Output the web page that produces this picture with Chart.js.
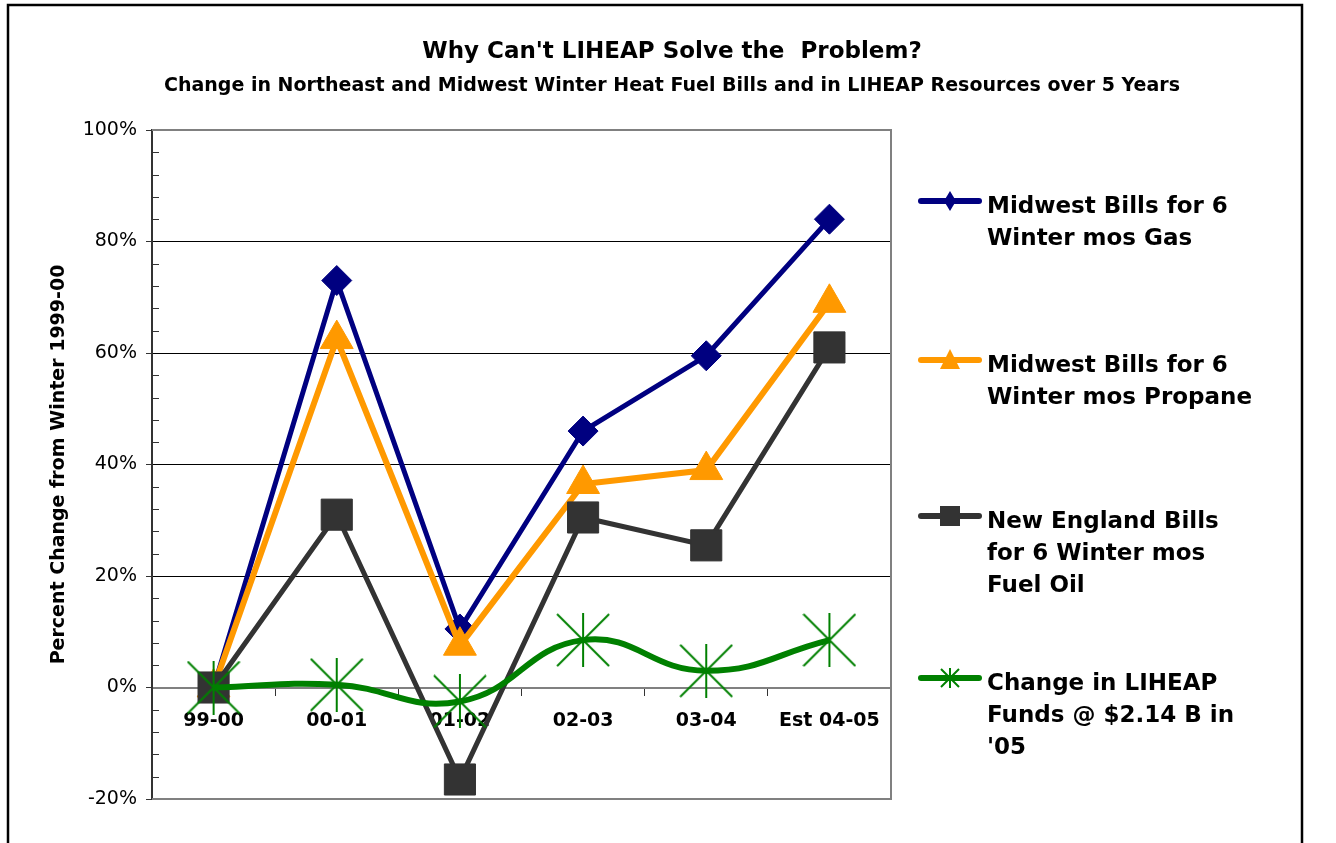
<!DOCTYPE html>
<html>
<head>
<meta charset="utf-8">
<script src="https://cdn.jsdelivr.net/npm/chart.js@4.4.1/dist/chart.umd.min.js"></script>
<style>
  html, body { margin: 0; padding: 0; background: #fff; overflow: hidden; }
</style>
</head>
<body>
<canvas id="heatChart" width="1336" height="843"></canvas>
<script>
const categories = ['99-00', '00-01', '01-02', '02-03', '03-04', 'Est 04-05'];
const gasValues = [0, 73, 10.5, 46, 59.5, 84];
const propaneValues = [0, 62.5, 7.5, 36.5, 39, 69];
const fuelOilValues = [0, 31, -16.5, 30.5, 25.5, 61];
const liheapValues = [0, 0.5, -2.5, 8.5, 3, 8.5];
const seriesNames = [
  ['Midwest Bills for 6', 'Winter mos Gas'],
  ['Midwest Bills for 6', 'Winter mos Propane'],
  ['New England Bills', 'for 6 Winter mos', 'Fuel Oil'],
  ['Change in LIHEAP', 'Funds @ $2.14 B in', "'05"]
];
const chartTitle = "Why Can't LIHEAP Solve the  Problem?";
const chartSubtitle = 'Change in Northeast and Midwest Winter Heat Fuel Bills and in LIHEAP Resources over 5 Years';
const yAxisTitle = 'Percent Change from Winter 1999-00';

const FONT = "'DejaVu Sans', Verdana, sans-serif";

// asterisk marker (vertical bar + X), like the excel one
function asterisk(size, lw, color) {
  const c = document.createElement('canvas');
  c.width = size; c.height = size;
  const g = c.getContext('2d');
  g.strokeStyle = color;
  g.lineWidth = lw;
  g.beginPath();
  g.moveTo(size / 2, 0); g.lineTo(size / 2, size);
  g.moveTo(1, 1); g.lineTo(size - 1, size - 1);
  g.moveTo(size - 1, 1); g.lineTo(1, size - 1);
  g.stroke();
  return c;
}
const starPoint = asterisk(54, 2, '#008000');
const starLegend = asterisk(20, 2, '#008000');

const legendBaselines = [213, 372, 528, 690];

function legendMarker(ctx, kind, x, y, color) {
  ctx.fillStyle = color;
  ctx.beginPath();
  if (kind === 'diamond') {
    ctx.moveTo(x, y - 10); ctx.lineTo(x + 6, y); ctx.lineTo(x, y + 10); ctx.lineTo(x - 6, y);
    ctx.closePath(); ctx.fill();
  } else if (kind === 'triangle') {
    ctx.moveTo(x, y - 11); ctx.lineTo(x + 10, y + 9); ctx.lineTo(x - 10, y + 9);
    ctx.closePath(); ctx.fill();
  } else if (kind === 'square') {
    ctx.rect(x - 10, y - 10, 20, 20); ctx.fill();
  } else {
    ctx.drawImage(starLegend, x - 10, y - 10);
  }
}

const framePlugin = {
  id: 'framePlugin',
  beforeDraw(chart) {
    const ctx = chart.ctx;
    ctx.save();
    ctx.strokeStyle = '#000';
    ctx.lineWidth = 2.5;
    ctx.strokeRect(8, 5, 1294, 900);
    ctx.fillStyle = '#000';
    ctx.textAlign = 'center';
    ctx.textBaseline = 'alphabetic';
    ctx.font = 'bold 23px ' + FONT;
    ctx.fillText(chartTitle, 672, 58);
    ctx.font = 'bold 19px ' + FONT;
    ctx.fillText(chartSubtitle, 672, 91);
    ctx.restore();
  },
  beforeDatasetsDraw(chart) {
    const { ctx, chartArea: a, scales: { y } } = chart;
    ctx.save();
    ctx.strokeStyle = '#808080';
    ctx.lineWidth = 2;
    ctx.beginPath();
    ctx.moveTo(a.left, a.top);
    ctx.lineTo(a.right, a.top);
    ctx.lineTo(a.right, a.bottom);
    ctx.lineTo(a.left, a.bottom);
    ctx.stroke();
    // small inside ticks between the 20% steps
    ctx.strokeStyle = '#333';
    ctx.lineWidth = 1;
    y.ticks.forEach(t => {
      if (t.value % 20 !== 0) {
        const py = Math.round(y.getPixelForValue(t.value)) + 0.5;
        ctx.beginPath();
        ctx.moveTo(a.left, py);
        ctx.lineTo(a.left + 7, py);
        ctx.stroke();
      }
    });
    ctx.restore();
  },
  afterDraw(chart) {
    const ctx = chart.ctx;
    ctx.save();
    chart.data.datasets.forEach((ds, i) => {
      const base = legendBaselines[i];
      const my = base - 12;
      ctx.strokeStyle = ds.borderColor;
      ctx.lineWidth = 6;
      ctx.lineCap = 'round';
      ctx.beginPath();
      ctx.moveTo(921, my);
      ctx.lineTo(979, my);
      ctx.stroke();
      legendMarker(ctx, ds.legendKind, 950, my, ds.borderColor);
      ctx.fillStyle = '#000';
      ctx.font = 'bold 23px ' + FONT;
      ctx.textAlign = 'left';
      ctx.textBaseline = 'alphabetic';
      seriesNames[i].forEach((line, j) => ctx.fillText(line, 987, base + j * 32));
    });
    ctx.restore();
  }
};

new Chart(document.getElementById('heatChart'), {
  type: 'line',
  data: {
    labels: categories,
    datasets: [
      {
        label: seriesNames[0].join(' '),
        data: gasValues,
        borderColor: '#000080',
        backgroundColor: '#000080',
        borderWidth: 5,
        pointStyle: 'rectRot',
        pointRadius: 15,
        pointBorderWidth: 1,
        legendKind: 'diamond',
        order: 3
      },
      {
        label: seriesNames[1].join(' '),
        data: propaneValues,
        borderColor: '#FF9900',
        backgroundColor: '#FF9900',
        borderWidth: 6,
        pointStyle: 'triangle',
        pointRadius: 19,
        pointBorderWidth: 1,
        legendKind: 'triangle',
        order: 2
      },
      {
        label: seriesNames[2].join(' '),
        data: fuelOilValues,
        borderColor: '#333333',
        backgroundColor: '#333333',
        borderWidth: 5,
        pointStyle: 'rect',
        pointRadius: 22,
        pointBorderWidth: 1,
        legendKind: 'square',
        order: 1
      },
      {
        label: seriesNames[3].join(' '),
        data: liheapValues,
        borderColor: '#008000',
        backgroundColor: '#008000',
        borderWidth: 6,
        tension: 0.45,
        pointStyle: starPoint,
        pointRadius: 27,
        legendKind: 'star',
        order: 0
      }
    ]
  },
  options: {
    responsive: false,
    animation: false,
    clip: false,
    layout: { padding: { left: 8, right: 445, top: 130, bottom: 44 } },
    plugins: {
      legend: { display: false },
      tooltip: { enabled: false },
      title: { display: false }
    },
    scales: {
      x: {
        position: { y: 0 },
        offset: true,
        grid: { offset: true, drawOnChartArea: false, tickLength: 7, tickColor: '#333' },
        border: { color: '#808080', width: 2 },
        ticks: { color: '#000', font: { family: FONT, size: 19, weight: 'bold' }, padding: 15, maxRotation: 0 }
      },
      y: {
        min: -20,
        max: 100,
        afterFit: s => { s.width = 144; },
        ticks: {
          stepSize: 4,
          autoSkip: false,
          color: '#000',
          padding: 9,
          font: { family: FONT, size: 19 },
          callback: v => (v % 20 === 0 ? v + '%' : '')
        },
        grid: {
          tickLength: 6,
          lineWidth: 1,
          color: c => (c.tick.value % 20 === 0 && c.tick.value > 0 && c.tick.value < 100 ? '#000' : 'rgba(0,0,0,0)'),
          tickColor: c => (c.tick.value % 20 === 0 ? '#333' : 'rgba(0,0,0,0)')
        },
        border: { color: '#333', width: 2 },
        title: {
          display: true,
          text: yAxisTitle,
          color: '#000',
          font: { family: FONT, size: 19, weight: 'bold' },
          padding: { top: 40, bottom: 0 }
        }
      }
    }
  },
  plugins: [framePlugin]
});
</script>
</body>
</html>
